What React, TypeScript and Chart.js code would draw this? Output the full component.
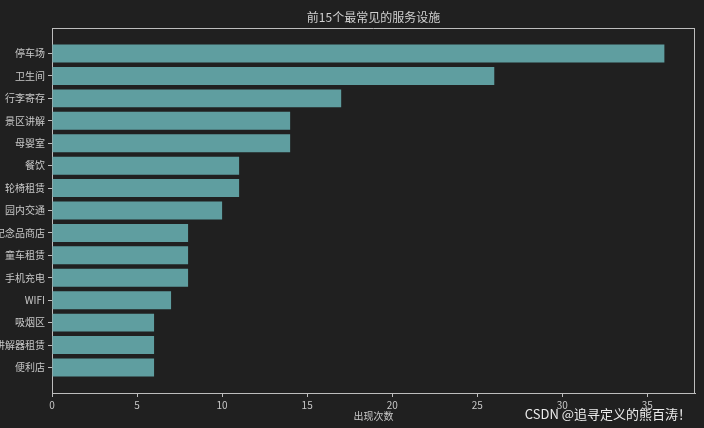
import React, { useEffect, useRef } from "react";
import { Chart, registerables } from "chart.js";

Chart.register(...registerables);

const categories = ["停车场", "卫生间", "行李寄存", "景区讲解", "母婴室", "餐饮", "轮椅租赁", "园内交通", "纪念品商店", "童车租赁", "手机充电", "WIFI", "吸烟区", "讲解器租赁", "便利店"];
const counts = [36, 26, 17, 14, 14, 11, 11, 10, 8, 8, 8, 7, 6, 6, 6];
const xTicks = [0, 5, 10, 15, 20, 25, 30, 35];

const chartTitle = "前15个最常见的服务设施";
const xAxisTitle = "出现次数";
const watermark = "CSDN @追寻定义的熊百涛！";

const BG = "#202020";
const SPINE = "#bdbdbd";
const TEXT = "#c8c8c8";
const FONT = "'Noto Sans CJK SC', 'DejaVu Sans', sans-serif";

export default function App() {
  const ref = useRef<HTMLCanvasElement | null>(null);
  useEffect(() => {
    const canvas = ref.current;
    if (!canvas) return;
    const decor = {
      id: "decor",
      beforeDraw(chart: any) {
        const c = chart.ctx;
        c.save();
        c.fillStyle = BG;
        c.fillRect(0, 0, chart.width, chart.height);
        c.restore();
      },
      afterDraw(chart: any) {
        const c = chart.ctx;
        const a = chart.chartArea;
        c.save();
        c.strokeStyle = SPINE;
        c.lineWidth = 1;
        c.beginPath();
        c.moveTo(a.left, a.top + 0.5);
        c.lineTo(a.right, a.top + 0.5);
        c.moveTo(a.right - 0.5, a.top);
        c.lineTo(a.right - 0.5, a.bottom);
        c.stroke();
        c.fillStyle = "#d0d0d0";
        c.textAlign = "center";
        c.textBaseline = "middle";
        c.font = `12px ${FONT}`;
        c.fillText(chartTitle, (a.left + a.right) / 2, 17);
        c.fillStyle = TEXT;
        c.font = `10px ${FONT}`;
        c.fillText(xAxisTitle, (a.left + a.right) / 2, 416);
        c.fillStyle = "#ececec";
        c.textAlign = "right";
        c.font = `13px ${FONT}`;
        c.fillText(watermark, 691, 414);
        c.restore();
      },
    };
    const chart = new Chart(canvas, {
      type: "bar",
      data: {
        datasets: [
          {
            data: counts.map((v, i) => ({ x: v, y: i })),
            backgroundColor: "#5f9ea0",
            borderWidth: 0,
            barPercentage: 0.8,
            categoryPercentage: 1,
          },
        ],
      },
      plugins: [decor],
      options: {
        indexAxis: "y",
        animation: false,
        responsive: false,
        maintainAspectRatio: false,
        layout: { padding: { left: 0, top: 28, right: 9, bottom: 0 } },
        plugins: { legend: { display: false }, tooltip: { enabled: false }, title: { display: false } },
        scales: {
          x: {
            type: "linear",
            min: 0,
            max: 37.8,
            offset: false,
            afterBuildTicks: (s: any) => {
              s.ticks = xTicks.map((v) => ({ value: v }));
            },
            afterFit: (s: any) => {
              s.height = 35;
            },
            grid: { drawOnChartArea: false, drawTicks: true, tickLength: 4, color: SPINE, offset: false },
            border: { display: true, color: SPINE },
            ticks: { color: TEXT, font: { family: FONT, size: 10 }, padding: 2, maxRotation: 0 },
          },
          y: {
            type: "linear",
            min: -1.14,
            max: 15.14,
            reverse: true,
            offset: false,
            afterBuildTicks: (s: any) => {
              s.ticks = categories.map((_, i) => ({ value: i }));
            },
            afterFit: (s: any) => {
              s.width = 52;
            },
            grid: { drawOnChartArea: false, drawTicks: true, tickLength: 4, color: SPINE, offset: false },
            border: { display: true, color: SPINE },
            ticks: {
              color: TEXT,
              font: { family: FONT, size: 10 },
              padding: 3,
              autoSkip: false,
              callback: (v: any) => categories[Number(v)] ?? "",
            },
          },
        },
      },
    } as any);
    return () => chart.destroy();
  }, []);
  return (
    <div style={{ position: "fixed", left: 0, top: 0, width: 704, height: 428, background: BG }}>
      <canvas ref={ref} width={704} height={428} style={{ width: 704, height: 428, display: "block" }} />
    </div>
  );
}
